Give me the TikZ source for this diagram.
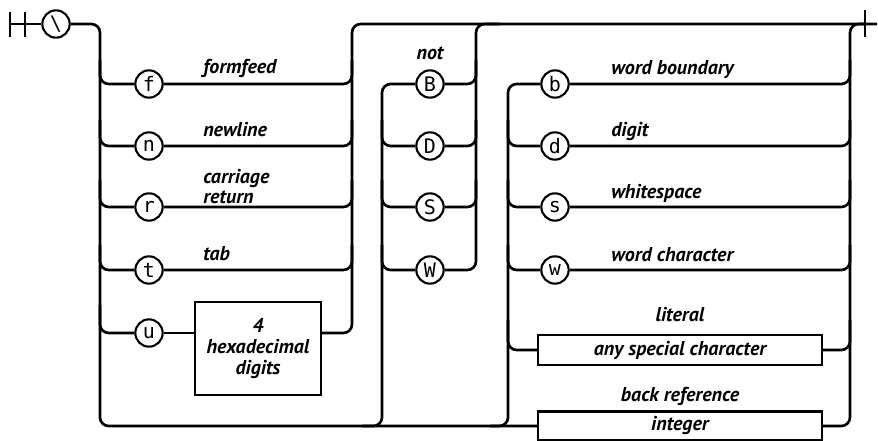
\documentclass[tikz,border=0pt]{standalone}
\usepackage{fontspec}
\setmainfont{PT Sans}
\newfontfamily\railmono{DejaVu Sans Mono}
\usetikzlibrary{positioning}

\tikzset{
  rail/.style={line width=2pt, rounded corners=6.5pt},
  term/.style={circle, draw, line width=1.6pt, minimum size=20.5pt, inner sep=0pt, font=\railmono\fontsize{15}{15}\selectfont},
  nonterm/.style={rectangle, draw, line width=1.8pt, inner sep=0pt, align=center, font=\bfseries\itshape\fontsize{15}{15.75}\selectfont},
  note/.style={inner sep=0pt, font=\bfseries\itshape\fontsize{15}{15}\selectfont},
}

\begin{document}
\begin{tikzpicture}[x=0.75pt, y=-0.75pt]
        \useasboundingbox (0,0) rectangle (878,441);

        % --- 1. Entry: start bar and backslash ---
        \coordinate (start) at (10,24);
        \draw[line width=2pt] (10,12) -- (10,37);
        \draw[line width=2pt] (25,12) -- (25,37);
        \node[term] (bs) at (56,24) {\textbackslash};
        \draw[rail] (start) -- (bs);

        % main split down the left side, bottom bypass into integer
        \coordinate (splitL) at (100,426);
        \node[nonterm, minimum width=213pt, minimum height=21.75pt] (int) at (680,426) {integer};
        \draw[rail] (bs) -| (splitL) -- (int);

        % --- 2. Character escapes ---
        \node[term] (f) at (149,84) {f};
        \node[term] (n) at (149,146) {n};
        \node[term] (r) at (149,207) {r};
        \node[term] (t) at (149,270) {t};
        \node[term] (u) at (149,333) {u};
        \node[nonterm, minimum width=94.5pt, minimum height=69.75pt] (hex) at (258,348.5) {4\\hexadecimal\\digits};

        \draw[rail] (100,60) |- (f);
        \draw[rail] (100,120) |- (n);
        \draw[rail] (100,180) |- (r);
        \draw[rail] (100,245) |- (t);
        \draw[rail] (100,305) |- (u);

        \draw[rail] (f) -| (352,60);
        \draw[rail] (n) -| (352,120);
        \draw[rail] (r) -| (352,180);
        \draw[rail] (t) -| (352,245);
        \draw[rail] (u) -- (hex.west |- u);
        \coordinate (stop) at (877,24);
        \draw[rail] (hex.east |- u) -| (352,24) -- (stop);

        % Labels
        \node[note, anchor=base west] (lff) at (203,74) {formfeed};
        \node[note, anchor=base west] (lnl) at (203,137) {newline};
        \node[note, anchor=south west, align=left] (lcr) at (203,204) {carriage\\return};
        \node[note, anchor=base west] (ltab) at (203,261) {tab};

        % --- 3. Negated classes ---
        \node[term] (B) at (430,84) {B};
        \node[term] (D) at (430,146) {D};
        \node[term] (S) at (430,207) {S};
        \node[term] (W) at (430,270) {W};

        \draw[rail] (362,426) -| (382,84) -- (B);
        \draw[rail] (382,120) |- (D);
        \draw[rail] (382,180) |- (S);
        \draw[rail] (382,245) |- (W);

        \draw[rail] (B) -| (476,60);
        \draw[rail] (D) -| (476,120);
        \draw[rail] (S) -| (476,180);
        \draw[rail] (W) -| (476,24) -- (500,24);

        \node[note, anchor=base] (lnot) at (430,60) {not};

        % --- 4. Classes, literal and back reference ---
        \node[term] (b) at (555,84) {b};
        \node[term] (d) at (555,146) {d};
        \node[term] (s) at (555,207) {s};
        \node[term] (w) at (555,270) {w};
        \node[nonterm, minimum width=213pt, minimum height=22.5pt] (lit) at (680,350) {any special character};

        \draw[rail] (490,426) -| (508,84) -- (b);
        \draw[rail] (508,120) |- (d);
        \draw[rail] (508,180) |- (s);
        \draw[rail] (508,245) |- (w);
        \draw[rail] (508,320) |- (lit);

        \draw[rail] (b) -| (850,60);
        \draw[rail] (d) -| (850,120);
        \draw[rail] (s) -| (850,180);
        \draw[rail] (w) -| (850,245);
        \draw[rail] (lit) -| (850,320);
        \draw[rail] (int) -| (850,24) -- (865,24);

        % Labels
        \node[note, anchor=base west] (lwb) at (611,75) {word boundary};
        \node[note, anchor=base west] (ldig) at (611,137) {digit};
        \node[note, anchor=base west] (lws) at (611,199) {whitespace};
        \node[note, anchor=base west] (lwc) at (611,262) {word character};
        \node[note, anchor=base] (llit) at (680,322) {literal};
        \node[note, anchor=base] (lbr) at (680,402) {back reference};

        % End bar
        \draw[line width=2pt] (865,10) -- (865,37);

    \end{tikzpicture}
\end{document}
